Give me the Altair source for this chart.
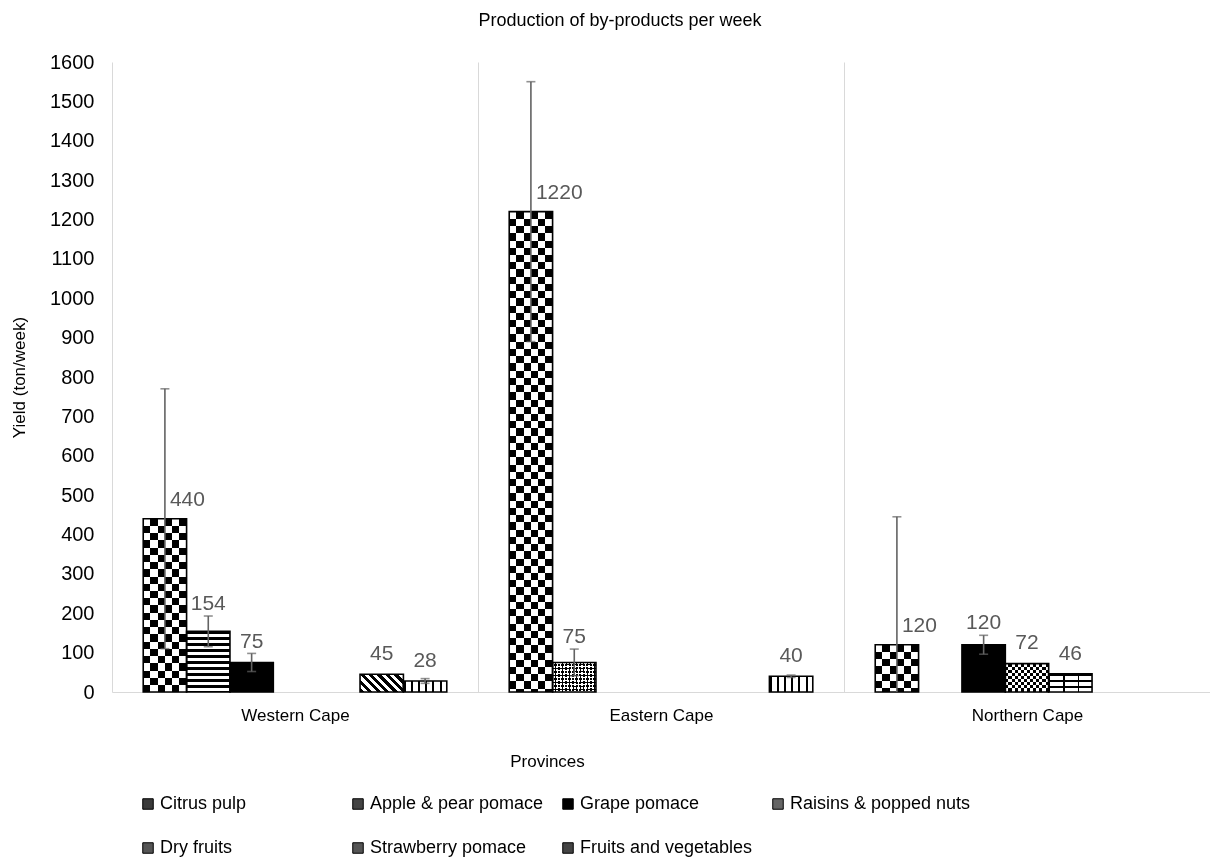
import math
import altair as alt
import pandas as pd

# ---------------- data ----------------
provinces = ["Western Cape", "Eastern Cape", "Northern Cape"]
series = ["Citrus pulp", "Apple & pear pomace", "Grape pomace",
          "Raisins & popped nuts", "Dry fruits", "Strawberry pomace",
          "Fruits and vegetables"]

citrus_pulp = [440, 1220, 120]
apple_pear = [154, 75, None]
grape = [75, None, 120]
raisins = [None, None, 72]
dry_fruits = [None, None, 46]
strawberry = [45, None, None]
fruits_veg = [28, 40, None]

citrus_err = [330, 330, 325]
apple_err = [39, 34, None]
grape_err = [23, None, 24]
raisins_err = [None, None, None]
dry_err = [None, None, None]
straw_err = [None, None, None]
fv_err = [6, 3, None]

y_ticks = list(range(0, 1601, 100))

values = [citrus_pulp, apple_pear, grape, raisins, dry_fruits, strawberry, fruits_veg]
errors = [citrus_err, apple_err, grape_err, raisins_err, dry_err, straw_err, fv_err]

rows = []
for s, vs, es in zip(series, values, errors):
    for p, v, e in zip(provinces, vs, es):
        if v is not None:
            rows.append({"province": p, "series": s, "value": v,
                         "err": float(e) if e is not None else float("nan")})
df = pd.DataFrame(rows)

# ---------------- geometry / style ----------------
W, H, YMAX = 1098, 630, 1600
PO = 0.72
band = W / 3
bw = band / (7 + 2 * PO)


def hpx(v):
    return v / YMAX * H


def stops_for(L, period, frac, c1, c2):
    st = []
    pos = 0.0
    while pos < L - 1e-6:
        a = round(min(pos / L, 1), 5)
        b = round(min((pos + frac * period) / L, 1), 5)
        c = round(min((pos + period) / L, 1), 5)
        st += [{"offset": a, "color": c1}, {"offset": b, "color": c1},
               {"offset": b, "color": c2}, {"offset": c, "color": c2}]
        pos += period
    return st


def grad(stops, x1, y1, x2, y2):
    return {"gradient": "linear", "x1": x1, "y1": y1, "x2": x2, "y2": y2, "stops": stops}


def diag_down(w, h, period, frac, c1, c2):
    k = (w + h) / (w * w + h * h)
    L = (w + h) / math.sqrt(2)
    return grad(stops_for(L, period, frac, c1, c2), 0, 1, k * w, 1 - k * h)


def diag_up(w, h, period, frac, c1, c2):
    k = (w + h) / (w * w + h * h)
    L = (w + h) / math.sqrt(2)
    return grad(stops_for(L, period, frac, c1, c2), 0, 0, k * w, k * h)


B, WT, TR = "black", "white", "rgba(0,0,0,0)"


def pattern_layers(kind, w, h):
    if kind == "checker":
        cell = w / 6
        return [dict(fill=grad(stops_for(w, 2 * cell, .5, B, WT), 0, 0, 1, 0)),
                dict(fill=grad(stops_for(h, 2 * cell, .5, WT, B), 0, 0, 0, 1), blend="difference")]
    if kind == "finechecker":
        cell = w / 14
        return [dict(fill=grad(stops_for(w, 2 * cell, .5, B, WT), 0, 0, 1, 0)),
                dict(fill=grad(stops_for(h, 2 * cell, .5, WT, B), 0, 0, 0, 1), blend="difference")]
    if kind == "diagchecker":
        return [dict(fill=diag_down(w, h, 5, .5, B, WT)),
                dict(fill=diag_up(w, h, 5, .5, WT, B), blend="difference")]
    if kind == "solid":
        return [dict(fill=B)]
    if kind == "hstripes":
        return [dict(fill=grad(stops_for(h, 6, .45, B, WT), 0, 0, 0, 1))]
    if kind == "vstripes":
        return [dict(fill=grad(stops_for(w, w / 6, .3, B, WT), 0, 0, 1, 0))]
    if kind == "diag":
        return [dict(fill=diag_down(w, h, 6, .5, B, WT))]
    if kind == "brick":
        return [dict(fill=grad(stops_for(h, 6, .28, B, WT), 0, 0, 0, 1)),
                dict(fill=grad(stops_for(w, w / 3, .1, B, TR), 0, 0, 1, 0))]
    return [dict(fill="gray")]


pattern_of = {"Citrus pulp": "checker", "Apple & pear pomace": "diagchecker",
              "Grape pomace": "solid", "Raisins & popped nuts": "finechecker",
              "Dry fruits": "brick", "Strawberry pomace": "diag",
              "Fruits and vegetables": "vstripes"}
pattern_override = {("Western Cape", "Apple & pear pomace"): "hstripes"}

legend_colors = ["#3a3a3a", "#444444", "#000000", "#666666", "#555555", "#555555", "#444444"]

FONT = "Liberation Sans"

xscale = alt.Scale(domain=provinces, paddingInner=0, paddingOuter=0)
xaxis = alt.Axis(title="Provinces", labelAngle=0, labelFontSize=17, labelPadding=15,
                 ticks=False, domainColor="#d9d9d9", grid=True, gridColor="#d9d9d9",
                 tickBand="extent", titleFontSize=17, titlePadding=30, titleX=435,
                 labelColor="black", titleColor="black", titleFontWeight="normal")
yscale = alt.Scale(domain=[0, YMAX], nice=False)
yaxis = alt.Axis(values=y_ticks, format="d", title="Yield (ton/week)", grid=False, domain=False,
                 ticks=False, labelPadding=18, labelFontSize=20, labelColor="black",
                 titleFontSize=17, titlePadding=21, titleColor="black", titleFontWeight="normal")
xoff = alt.XOffset("series:N", scale=alt.Scale(domain=series, paddingInner=0, paddingOuter=PO))


def X():
    return alt.X("province:N", scale=xscale, axis=xaxis, sort=provinces)


def Y(field):
    return alt.Y(field, scale=yscale, axis=yaxis)


base = alt.Chart(df)
layers = []

# hidden layer for the legend
layers.append(base.mark_bar(opacity=0).encode(
    x=X(), xOffset=xoff, y=Y("value:Q"),
    fill=alt.Fill("series:N", scale=alt.Scale(domain=series, range=legend_colors),
                  legend=alt.Legend(title=None, orient="none", legendX=27, legendY=733,
                                    direction="horizontal",
                                    columns=4, symbolType="square", symbolSize=110,
                                    symbolStrokeColor="black", symbolStrokeWidth=1,
                                    symbolOpacity=1, labelFontSize=18, labelColor="black",
                                    rowPadding=26, columnPadding=8, gridAlign="all",
                                    labelLimit=400, labelOffset=3)),
))

# patterned bars
for r in rows:
    kind = pattern_override.get((r["province"], r["series"]), pattern_of[r["series"]])
    h = hpx(r["value"])
    for kw in pattern_layers(kind, bw, h):
        layers.append(
            base.transform_filter(
                f"datum.province == '{r['province']}' && datum.series == '{r['series']}'"
            ).mark_bar(**kw).encode(x=X(), xOffset=xoff, y=Y("value:Q"))
        )

# outlines
layers.append(base.mark_bar(fillOpacity=0, stroke="black", strokeWidth=1.6).encode(
    x=X(), xOffset=xoff, y=Y("value:Q")))

# error bars (clipped at zero like the original)
ERR_C = "#636363"
eb = base.transform_filter("isValid(datum.err) && datum.err > 0").transform_calculate(
    lo="datum.value - datum.err", hi="datum.value + datum.err")
layers.append(eb.transform_calculate(lo0="max(0, datum.lo)").mark_rule(
    color=ERR_C, strokeWidth=1.6).encode(x=X(), xOffset=xoff, y=Y("lo0:Q"), y2="hi:Q"))
layers.append(eb.transform_filter("datum.lo > 0").mark_tick(
    color=ERR_C, thickness=1.6, size=9).encode(x=X(), xOffset=xoff, y=Y("lo:Q")))
layers.append(eb.mark_tick(color=ERR_C, thickness=1.6, size=9).encode(
    x=X(), xOffset=xoff, y=Y("hi:Q")))

# data labels
lab = base.transform_calculate(
    ly="datum.series == 'Citrus pulp' ? datum.value + 33 : "
       "max(datum.value + 36, datum.value + (isValid(datum.err) ? datum.err : 0) + 15)")
layers.append(lab.transform_filter("datum.series == 'Citrus pulp'").mark_text(
    align="left", baseline="alphabetic", dx=5, fontSize=21, color="#595959").encode(
    x=X(), xOffset=xoff, y=Y("ly:Q"), text=alt.Text("value:Q", format="d")))
layers.append(lab.transform_filter("datum.series != 'Citrus pulp'").mark_text(
    align="center", baseline="alphabetic", fontSize=21, color="#595959").encode(
    x=X(), xOffset=xoff, y=Y("ly:Q"), text=alt.Text("value:Q", format="d")))

chart = alt.layer(*layers).properties(
    width=W, height=H,
    padding={"left": 2, "top": 4, "right": 0, "bottom": 0},
    title=alt.Title("Production of by-products per week", fontSize=18, fontWeight="normal",
                    color="black", anchor="middle", offset=22, dx=-41),
).configure(font=FONT).configure_view(stroke=None)

chart.save("out.html", embed_options={"renderer": "svg", "actions": False})
